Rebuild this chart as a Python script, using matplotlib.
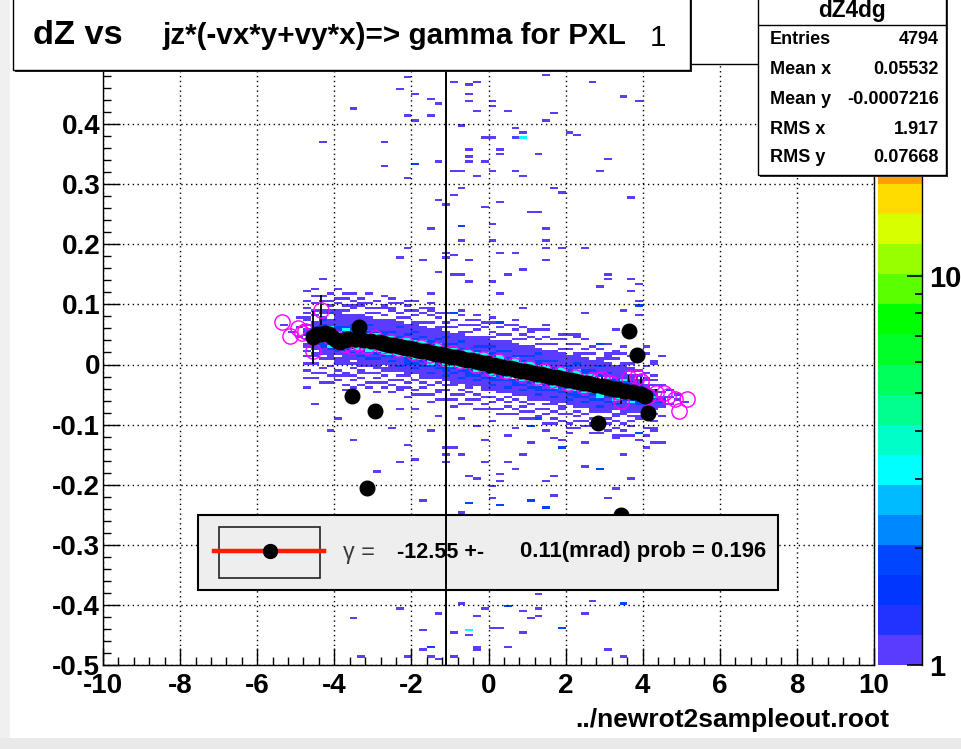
import numpy as np
import matplotlib
matplotlib.use("Agg")
import matplotlib.pyplot as plt
from matplotlib.colors import ListedColormap, BoundaryNorm
from matplotlib.patches import Rectangle
from matplotlib.lines import Line2D
from matplotlib import transforms
from matplotlib.ticker import FixedLocator, FixedFormatter, NullFormatter

# ------------------------------------------------------------------ data
x_range = (-10.0, 10.0)
y_range = (-0.5, 0.5)
n_xbins = 100
n_ybins = 250
z_max = 35.0
n_levels = 20
palette = ['#5a3cff', '#2232ff', '#0036ff', '#0046ff', '#0088ff', '#00bbff',
           '#00ffff', '#00ffc8', '#00ff8c', '#00ff5a', '#00ff28', '#00ff00',
           '#5aff00', '#96ff00', '#d7ff00', '#ffdc00', '#ffa000', '#ff6e00',
           '#ff3c00', '#ff0000']

x_ticks = [-10, -8, -6, -4, -2, 0, 2, 4, 6, 8, 10]
x_ticklabels = ['-10', '-8', '-6', '-4', '-2', '0', '2', '4', '6', '8', '10']
y_ticks = [-0.5, -0.4, -0.3, -0.2, -0.1, 0.0, 0.1, 0.2, 0.3, 0.4]
y_ticklabels = ['-0.5', '-0.4', '-0.3', '-0.2', '-0.1', '0', '0.1', '0.2', '0.3', '0.4']
z_ticks = [1, 10]
z_ticklabels = ['1', '10']
vline_x = -1.1

# dense band of the 2D histogram: per column centre, band middle, counts per y-bin
band_x = [-4.7, -4.5, -4.3, -4.1, -3.9, -3.7, -3.5, -3.3, -3.1, -2.9, -2.7, -2.5,
          -2.3, -2.1, -1.9, -1.7, -1.5, -1.3, -1.1, -0.9, -0.7, -0.5, -0.3, -0.1,
          0.1, 0.3, 0.5, 0.7, 0.9, 1.1, 1.3, 1.5, 1.7, 1.9, 2.1, 2.3, 2.5, 2.7,
          2.9, 3.1, 3.3, 3.5, 3.7, 3.9, 4.1, 4.3, 4.5]
band_mid = [0.055, 0.052, 0.050, 0.048, 0.045, 0.043, 0.041, 0.039, 0.037, 0.035,
            0.034, 0.032, 0.029, 0.027, 0.025, 0.022, 0.020, 0.017, 0.015, 0.012,
            0.010, 0.007, 0.005, 0.002, -0.001, -0.003, -0.006, -0.008, -0.011,
            -0.013, -0.016, -0.018, -0.021, -0.023, -0.026, -0.028, -0.031, -0.033,
            -0.036, -0.038, -0.041, -0.043, -0.046, -0.048, -0.051, -0.053, -0.056]
count_codes = {'.': 0, '1': 1, '2': 2, '3': 3, '4': 4, '5': 5, '6': 6, '7': 7,
               '8': 8, '9': 9, 'A': 12, 'B': 15, 'C': 20, 'D': 25, 'E': 30, 'F': 35}
band_cells = [
    ".1..1..1..|1.1.11.|1.2|2|1.1|.11.1.1|..1...1...",
    "..1.1...1.|.11.112|123|4|321|11.1.1.|.1..1..1..",
    "1...1.1...|1.11122|234|6|322|2121.11|...1.1....",
    ".1..1...1.|.111123|233|8|332|3111.11|.1.1..1...",
    "..1.1.1..1|11.1213|234|A|432|2111111|1..1.1...1",
    ".1...11...|1111122|234|A|432|3211111|.1.1..1.1.",
    "1..1.1..1.|1.11213|234|C|432|2121111|..11.1....",
    "..1..1.11.|1111212|345|C|543|3111211|1...1..1..",
    ".1.1...1..|1112113|345|D|543|2112111|.1.1.1...1",
    "1...1.1.1.|1111212|345|D|543|3211111|..1.1..1..",
    "..1.1..1.1|1.11123|345|D|543|2211111|.1..11...1",
    ".1..1.1...|1111212|345|E|543|3121111|1..1..1.1.",
    "..11..1.1.|1121113|345|E|543|2111211|.1.1...1..",
    "1...1.1..1|1111222|345|E|543|3121111|..1..1.1.1",
    ".1.1...1..|1121213|345|F|543|2112111|1..1.1....",
    "..1..1.1.1|1111212|345|E|543|3121111|.1...1.1..",
    "1..1...1..|1121123|345|F|543|2211111|..1.1..1.1",
    ".1..11..1.|1111212|345|E|543|3121111|1...1.1...",
    "..1...1.1.|1121223|345|F|543|2211211|.1.1...1..",
    "1..1.1...1|1111212|345|E|543|3121111|..1..1.1..",
    ".1...1.1..|1121123|345|F|543|2112111|1..1...1.1",
    "..1.1..1.1|1111222|345|F|543|3211111|.1..1.1...",
    "1...1.1...|1121213|345|E|543|2121111|..1.1...1.",
    ".1.1..1..1|1111212|345|F|543|3112111|1...1.1...",
    "..1..1.1..|1121223|345|F|543|2211211|.1.1...1.1",
    "1.1...1..1|1111212|345|E|543|3121111|..1..1.1..",
    ".1..1.1.1.|1121123|345|F|543|2112111|1..1...1..",
    "..1.1...1.|1111222|345|E|543|3211111|.1...1.1.1",
    "1..1.1.1..|1121213|345|F|543|2121111|..1.1..1..",
    ".1..1..1.1|1111212|345|E|543|3112111|1...1.1...",
    "..11..1...|1121223|345|E|543|2211211|.1.1...1..",
    "1...1.1.1.|1111212|345|D|543|3121111|..1..1..1.",
    ".1.1..1..1|1121123|345|E|543|2112111|1..1.1....",
    "..1..1.11.|1111212|345|D|543|3211111|.1...1.1..",
    "1.1...1...|1121213|345|D|543|2121111|..1.1...1.",
    ".1..1.1.1.|1111222|345|D|543|3112111|1...1..1..",
    "..1.1..1..|1121213|345|D|543|2211111|.1.1...1..",
    "1...1.1..1|1111212|345|C|543|3121111|..1..1....",
    ".1.1...1..|1121123|345|C|543|2111211|1...1.1...",
    "..1..1.1..|1111212|234|C|432|3121111|.1.1...1..",
    "1...1..1.1|1.11213|234|A|432|2111111|..1..1....",
    ".1.1..1...|1111112|234|A|432|3111111|1...1..1..",
    "..1...1.1.|1.11113|233|8|332|2111.11|.1..1.....",
    ".1..1.....|11.1112|223|7|322|2111.1.|...1..1...",
    "...1..1...|.1.1.12|123|5|321|1.11.1.|.1....1...",
    ".1....1...|1..1.11|122|4|221|.1.1.1.|....1.....",
    "..1.......|...1..1|1.2|2|1.1|..1....|......1...",
]

# scattered cells (x, y, count)
sparse_cells = [
    (-2.17, 0.477, 1), (-2.36, 0.457, 1), (-1.93, 0.449, 1), (-1.56, 0.444, 1),
    (-1.35, 0.435, 1), (-3.55, 0.427, 1), (-2.17, 0.413, 1), (-1.56, 0.416, 1),
    (-1.93, 0.404, 1), (-0.96, 0.468, 1), (-0.54, 0.466, 1), (-0.33, 0.468, 1),
    (-0.54, 0.449, 1), (-0.54, 0.440, 1), (0.06, 0.440, 1), (0.06, 0.432, 1),
    (-0.33, 0.421, 1), (0.45, 0.421, 1), (1.47, 0.482, 1), (1.66, 0.418, 1),
    (1.47, 0.407, 1), (2.66, 0.468, 1), (-0.74, 0.399, 1), (0.64, 0.393, 1),
    (0.86, 0.385, 1), (-0.12, 0.377, 1), (0.06, 0.379, 1), (0.64, 0.377, 1),
    (0.86, 0.379, 3), (2.07, 0.385, 1), (2.27, 0.382, 1), (-4.37, 0.371, 1),
    (-2.75, 0.368, 1), (-0.52, 0.357, 1), (0.25, 0.357, 1), (0.25, 0.349, 1),
    (1.25, 0.349, 1), (3.05, 0.343, 1), (-0.54, 0.346, 1), (-0.54, 0.338, 1),
    (-1.35, 0.338, 1), (-0.12, 0.338, 1), (-1.95, 0.333, 2), (-2.75, 0.329, 1),
    (-0.93, 0.321, 1), (-0.74, 0.321, 1), (0.06, 0.324, 1), (0.64, 0.321, 1),
    (0.86, 0.316, 1), (-0.33, 0.316, 1), (2.85, 0.321, 1), (-2.17, 0.310, 1),
    (-0.74, 0.296, 1), (1.66, 0.293, 1), (1.85, 0.285, 1), (-0.94, 0.282, 1),
    (-1.35, 0.274, 1), (-1.15, 0.266, 1), (-0.12, 0.260, 1), (0.25, 0.268, 1),
    (1.06, 0.252, 1), (1.26, 0.252, 1), (0.06, 0.235, 1), (-0.74, 0.228, 2),
    (-1.56, 0.227, 1), (1.47, 0.224, 1), (-0.74, 0.205, 1), (0.06, 0.207, 1),
    (1.47, 0.205, 1), (1.85, 0.196, 1), (-2.17, 0.194, 1), (-2.36, 0.180, 1),
    (-1.15, 0.188, 1), (-0.93, 0.182, 1), (-1.15, 0.177, 1), (-1.75, 0.174, 1),
    (-0.54, 0.174, 1), (0.25, 0.188, 1), (0.64, 0.188, 1), (1.47, 0.194, 1),
    (1.47, 0.174, 1), (2.46, 0.194, 1), (-1.35, 0.155, 1), (-0.93, 0.152, 1),
    (-0.74, 0.149, 1), (0.86, 0.157, 1), (0.45, 0.149, 1), (3.07, 0.152, 1),
    (3.07, 0.144, 1), (-0.54, 0.138, 1), (0.06, 0.138, 1), (2.85, 0.130, 1),
    (-4.37, 0.144, 1), (-3.55, 0.116, 1), (-1.56, 0.119, 1), (0.25, 0.116, 1),
    (3.45, 0.446, 1), (3.89, 0.440, 1), (3.67, 0.277, 1), (3.67, 0.144, 1),
    (3.89, 0.135, 1), (3.67, 0.121, 1), (3.89, 0.107, 1), (3.89, 0.099, 2),
    (3.45, 0.091, 1), (3.89, 0.083, 1), (3.28, 0.058, 1), (2.89, 0.035, 1),
    (3.06, 0.016, 1), (-1.5, 0.090, 1), (-0.9, 0.085, 1), (-0.3, 0.075, 1),
    (0.4, 0.070, 1), (1.0, 0.060, 1), (1.6, 0.065, 1), (2.3, 0.050, 1),
    (-2.5, 0.095, 1), (-3.3, 0.100, 1), (2.6, 0.085, 1), (3.4, 0.020, 1),
    (4.1, 0.030, 1), (4.35, 0.000, 1), (-4.1, 0.085, 1), (-2.0, 0.105, 1),
    (0.9, 0.095, 1), (-5.35, 0.068, 1), (-4.85, 0.078, 1), (-4.85, 0.062, 1),
    (-5.05, 0.055, 1), (-4.95, 0.045, 1),
    (-4.73, -0.038, 1), (-4.54, -0.065, 1), (-3.77, -0.043, 1), (-2.34, -0.074, 1),
    (-1.95, -0.074, 1), (-2.56, -0.107, 1), (-3.55, -0.126, 1), (-2.14, -0.135, 1),
    (-2.34, -0.160, 1), (-1.95, -0.157, 1), (-1.17, -0.140, 1), (-0.96, -0.138, 1),
    (-0.74, -0.149, 1), (-1.17, -0.151, 1), (-1.17, -0.160, 1), (-0.13, -0.160, 1),
    (0.45, -0.163, 1), (0.64, -0.176, 1), (0.25, -0.182, 1), (0.25, -0.196, 1),
    (0.86, -0.151, 1), (1.06, -0.132, 1), (1.47, -0.110, 1), (1.66, -0.124, 1),
    (1.85, -0.126, 1), (1.85, -0.138, 2), (2.46, -0.129, 1), (2.46, -0.168, 1),
    (2.85, -0.176, 2), (3.05, -0.221, 1), (-2.92, -0.179, 1), (-0.52, -0.187, 1),
    (-0.33, -0.190, 1), (0.06, -0.204, 1), (0.06, -0.221, 1), (0.25, -0.232, 1),
    (1.47, -0.196, 1), (1.66, -0.187, 1), (1.66, -0.218, 1), (1.06, -0.226, 1),
    (1.47, -0.237, 1), (-1.75, -0.224, 1), (-0.54, -0.229, 1), (-0.74, -0.246, 1),
    (-0.53, -0.230, 1), (0.25, -0.234, 1), (1.05, -0.226, 1), (1.49, -0.239, 1),
    (-1.13, -0.253, 1), (-1.35, -0.085, 1), (-0.75, -0.090, 1), (-0.35, -0.100, 1),
    (0.05, -0.095, 1), (0.65, -0.105, 1), (1.25, -0.090, 1), (-1.55, -0.110, 1),
    (0.45, -0.120, 1), (2.05, -0.115, 1), (2.65, -0.100, 1), (-0.15, -0.125, 1),
    (1.05, -0.100, 2), (3.35, -0.120, 1), (3.55, -0.150, 1), (3.95, -0.115, 1),
    (4.15, -0.140, 1), (3.75, -0.190, 1), (3.35, -0.205, 1), (4.35, -0.105, 1),
    (3.15, -0.280, 1), (-3.95, -0.090, 1), (-4.15, -0.110, 1),
    (4.75, -0.055, 1), (4.75, -0.065, 1), (4.95, -0.060, 1), (4.65, -0.040, 2),
    (4.95, -0.050, 1), (5.15, -0.062, 1),
    (-2.32, -0.408, 1), (-1.34, -0.413, 1), (-0.09, -0.406, 1), (0.45, -0.401, 2),
    (1.26, -0.408, 1), (2.50, -0.414, 1), (3.49, -0.399, 2), (-0.74, -0.398, 1),
    (1.25, -0.384, 1), (2.68, -0.395, 1), (-3.55, -0.423, 1), (-1.75, -0.443, 1),
    (-0.94, -0.445, 1), (-0.52, -0.443, 3), (-0.52, -0.451, 1), (-0.33, -0.418, 1),
    (0.06, -0.437, 1), (0.25, -0.440, 1), (0.86, -0.412, 1), (1.06, -0.423, 1),
    (1.25, -0.420, 1), (1.85, -0.437, 2), (0.86, -0.448, 1), (0.45, -0.468, 1),
    (-0.33, -0.470, 1), (-1.56, -0.470, 2), (-1.75, -0.476, 1), (-2.15, -0.487, 1),
    (-0.95, -0.487, 1), (-3.25, -0.487, 1), (3.05, -0.476, 1), (-1.45, -0.485, 1),
    (-1.25, -0.492, 1), (3.45, -0.488, 1), (-0.35, -0.475, 1),
]

# profile (black filled markers)
prof_x = [-4.55, -4.45, -4.35, -4.25, -4.15, -4.05, -3.95, -3.85, -3.75, -3.65,
          -3.55, -3.45, -3.35, -3.25, -3.15, -3.05, -2.95, -2.85, -2.75, -2.65,
          -2.55, -2.45, -2.35, -2.25, -2.15, -2.05, -1.95, -1.85, -1.75, -1.65,
          -1.55, -1.45, -1.35, -1.25, -1.15, -1.05, -0.95, -0.85, -0.75, -0.65,
          -0.55, -0.45, -0.35, -0.25, -0.15, -0.05, 0.05, 0.15, 0.25, 0.35,
          0.45, 0.55, 0.65, 0.75, 0.85, 0.95, 1.05, 1.15, 1.25, 1.35,
          1.45, 1.55, 1.65, 1.75, 1.85, 1.95, 2.05, 2.15, 2.25, 2.35,
          2.45, 2.55, 2.65, 2.75, 2.85, 2.95, 3.05, 3.15, 3.25, 3.35,
          3.45, 3.55, 3.65, 3.75, 3.85, 3.95, 4.05, 4.15]
prof_y = [0.045, 0.050, 0.050, 0.052, 0.050, 0.046, 0.040, 0.038, 0.040, 0.043,
          -0.053, 0.043, 0.062, 0.041, -0.206, 0.039, -0.078, 0.037, 0.036, 0.034,
          0.033, 0.032, 0.030, 0.029, 0.028, 0.027, 0.025, 0.024, 0.023, 0.022,
          0.020, 0.019, 0.018, 0.017, 0.015, 0.014, 0.013, 0.012, 0.010, 0.009,
          0.008, 0.007, 0.005, 0.004, 0.003, 0.002, 0.000, -0.001, -0.002, -0.004,
          -0.005, -0.006, -0.007, -0.009, -0.010, -0.011, -0.012, -0.014, -0.015, -0.016,
          -0.017, -0.019, -0.020, -0.021, -0.022, -0.024, -0.025, -0.026, -0.027, -0.029,
          -0.030, -0.031, -0.032, -0.034, -0.097, -0.036, -0.037, -0.039, -0.040, -0.041,
          -0.250, -0.044, 0.055, -0.046, 0.015, -0.049, -0.052, -0.081]
prof_err = [0.044, 0.010, 0.006, 0.005, 0.004, 0.004, 0.004, 0.003, 0.003, 0.003,
            0.0, 0.003, 0.0, 0.003, 0.0, 0.003, 0.0, 0.003, 0.003, 0.003,
            0.003, 0.003, 0.003, 0.003, 0.003, 0.003, 0.003, 0.003, 0.003, 0.003,
            0.003, 0.003, 0.003, 0.003, 0.003, 0.003, 0.003, 0.003, 0.003, 0.003,
            0.003, 0.003, 0.003, 0.003, 0.003, 0.003, 0.003, 0.003, 0.003, 0.003,
            0.003, 0.003, 0.003, 0.003, 0.003, 0.003, 0.003, 0.003, 0.003, 0.003,
            0.003, 0.003, 0.003, 0.003, 0.003, 0.003, 0.003, 0.003, 0.003, 0.003,
            0.003, 0.003, 0.003, 0.003, 0.0, 0.003, 0.003, 0.003, 0.003, 0.003,
            0.0, 0.004, 0.0, 0.005, 0.0, 0.006, 0.008, 0.0]

# second profile (open magenta markers)
prof2_x = [-5.35, -5.15, -4.95, -4.85, -4.75, -4.55, -4.35, -4.15, -3.95, -3.75,
           -3.55, -3.35, -3.15, -2.95, -2.75, -2.55, -2.35, -2.15, -1.95, -1.75,
           -1.55, -1.35, -1.15, -0.95, -0.75, -0.55, -0.35, -0.15, 0.05, 0.25,
           0.45, 0.65, 0.85, 1.05, 1.25, 1.45, 1.65, 1.85, 2.05, 2.25,
           2.45, 2.65, 2.85, 2.95, 3.15, 3.35, 3.45, 3.65, 3.85, 3.95,
           4.15, 4.35, 4.55, 4.65, 4.85, 4.95, 5.15]
prof2_y = [0.070, 0.048, 0.060, 0.053, 0.056, 0.023, 0.090, 0.047, 0.044, 0.034,
           0.030, 0.036, 0.031, 0.044, 0.030, 0.038, 0.025, 0.034, 0.021, 0.029,
           0.015, 0.024, 0.011, 0.019, 0.005, 0.014, 0.000, 0.009, -0.006, 0.005,
           -0.011, -0.001, -0.016, -0.006, -0.021, -0.011, -0.026, -0.016, -0.031, -0.021,
           -0.036, -0.026, -0.025, -0.024, -0.030, -0.046, -0.060, -0.023, -0.021, -0.027,
           -0.053, -0.047, -0.048, -0.052, -0.057, -0.077, -0.057]
prof2_err = [0.0, 0.0, 0.0, 0.0, 0.0, 0.020, 0.025, 0.005, 0.004, 0.004,
             0.004, 0.004, 0.004, 0.004, 0.004, 0.004, 0.004, 0.004, 0.004, 0.004,
             0.004, 0.004, 0.004, 0.004, 0.004, 0.004, 0.004, 0.004, 0.004, 0.004,
             0.004, 0.004, 0.004, 0.004, 0.004, 0.004, 0.004, 0.004, 0.004, 0.004,
             0.004, 0.004, 0.004, 0.004, 0.004, 0.004, 0.006, 0.006, 0.006, 0.006,
             0.006, 0.006, 0.0, 0.0, 0.0, 0.0, 0.0]

fit_gamma_mrad = -12.55
fit_gamma_err = 0.11
fit_prob = 0.196
fit_intercept = 0.0
fit_range = (-4.5, 4.1)

stats_name = 'dZ4dg'
stats_labels = ['Entries', 'Mean x', 'Mean y', 'RMS x', 'RMS y']
stats_values = ['4794', '0.05532', '-0.0007216', '1.917', '0.07668']

title_main = 'dZ vs'
title_rest = 'jz*(-vx*y+vy*x)=> gamma for PXL'
title_tag = '1'
file_label = '../newrot2sampleout.root'

# ------------------------------------------------------------------ figure
W, H = 961, 749
FAM = ['Liberation Sans', 'DejaVu Sans']
plt.rcParams['font.family'] = FAM

fig = plt.figure(figsize=(W / 100, H / 100), dpi=100)
fig.patch.set_facecolor('white')


def fb(x0, y0, x1, y1):
    """pixel box (top-left origin) -> figure fraction rect"""
    return [x0 / W, 1 - y1 / H, (x1 - x0) / W, (y1 - y0) / H]


ax = fig.add_axes(fb(103, 64, 874, 665))

# 2D histogram
xe = np.linspace(x_range[0], x_range[1], n_xbins + 1)
ye = np.linspace(y_range[0], y_range[1], n_ybins + 1)
dy = ye[1] - ye[0]
hist = np.zeros((n_ybins, n_xbins))


def add_cell(x, y, n):
    ix = np.searchsorted(xe, x, side='right') - 1
    iy = np.searchsorted(ye, y, side='right') - 1
    if 0 <= ix < n_xbins and 0 <= iy < n_ybins:
        hist[iy, ix] += n


for bx, bm, code in zip(band_x, band_mid, band_cells):
    s = code.replace('|', '')
    half = len(s) // 2
    for k, ch in enumerate(s):
        n = count_codes[ch]
        if n:
            add_cell(bx, bm + (k - half) * dy, n)
for (sx, sy, sn) in sparse_cells:
    add_cell(sx, sy, sn)

levels = np.logspace(0, np.log10(z_max), n_levels + 1)
cmap = ListedColormap(palette)
cmap.set_over(palette[-1])
norm = BoundaryNorm(levels, n_levels)
ax.pcolormesh(xe, ye, np.ma.masked_equal(hist, 0), cmap=cmap, norm=norm,
              zorder=1, linewidth=0, antialiased=False)

# profiles and fit
ax.errorbar(prof2_x, prof2_y, yerr=prof2_err, fmt='o', ms=11, mfc='none',
            mec='#ff00ff', mew=1.0, ecolor='k', elinewidth=1.3, capsize=0, zorder=3)
fx = np.array(fit_range)
ax.plot(fx, fit_intercept + fit_gamma_mrad * 1e-3 * fx, color='red', lw=3, zorder=3.5)
ax.errorbar(prof_x, prof_y, yerr=prof_err, fmt='o', ms=10.5, color='k',
            ecolor='k', elinewidth=1.3, capsize=0, zorder=4)

ax.set_xlim(*x_range)
ax.set_ylim(*y_range)
ax.xaxis.set_major_locator(FixedLocator(x_ticks))
ax.xaxis.set_major_formatter(FixedFormatter(x_ticklabels))
ax.xaxis.set_minor_locator(FixedLocator(np.arange(-10, 10.01, 0.4)))
ax.yaxis.set_major_locator(FixedLocator(y_ticks))
ax.yaxis.set_major_formatter(FixedFormatter(y_ticklabels))
ax.yaxis.set_minor_locator(FixedLocator(np.arange(-0.5, 0.501, 0.02)))
ax.tick_params(which='both', direction='in', color='k', width=1)
ax.tick_params(which='major', length=12)
ax.tick_params(which='minor', length=6)
ax.tick_params(axis='x', which='major', pad=6, labelsize=20)
ax.tick_params(axis='y', which='major', pad=2, labelsize=20)
for lab in ax.get_xticklabels() + ax.get_yticklabels():
    lab.set_fontweight('bold')
ax.grid(True, which='major', color='k', lw=1.0, ls=(0, (1, 2.5)), zorder=2)
for sp in ax.spines.values():
    sp.set_linewidth(1.0)
    sp.set_zorder(5)

# colour palette axis
cax = fig.add_axes(fb(878, 64, 922, 665))
cax.set_yscale('log')
cax.set_ylim(1, z_max)
cax.set_xlim(0, 1)
centers = np.sqrt(levels[:-1] * levels[1:])
cax.pcolormesh([0, 1], levels, centers.reshape(-1, 1), cmap=cmap, norm=norm,
               linewidth=0, antialiased=False)
for side in ['top', 'left', 'bottom']:
    cax.spines[side].set_visible(False)
cax.spines['right'].set_linewidth(1.0)
cax.set_xticks([])
cax.yaxis.tick_right()
cax.yaxis.set_major_locator(FixedLocator(z_ticks))
cax.yaxis.set_major_formatter(FixedFormatter(z_ticklabels))
cax.yaxis.set_minor_locator(FixedLocator([2, 3, 4, 5, 6, 7, 8, 9, 20, 30]))
cax.yaxis.set_minor_formatter(NullFormatter())
cax.tick_params(which='both', direction='in', color='k', width=1.2, right=True, left=False)
cax.tick_params(which='major', length=11, pad=5, labelsize=21)
cax.tick_params(which='minor', length=5)
for lab in cax.get_yticklabels():
    lab.set_fontweight('bold')

# ------------------------------------------------------------------ decorations
renderer = fig.canvas.get_renderer()


def rect(x0, y0, x1, y1, fc='white', ec='k', lw=1.0, z=5):
    r = Rectangle((x0 / W, 1 - y1 / H), (x1 - x0) / W, (y1 - y0) / H,
                  transform=fig.transFigure, facecolor=fc, edgecolor=ec,
                  linewidth=lw, zorder=z)
    fig.add_artist(r)
    return r


def ftext(x, y, s, width=None, size=14, ha='left', va='center', weight='bold',
          color='k', z=6, family=FAM):
    t = fig.text(x / W, 1 - y / H, s, ha=ha, va=va, fontsize=size,
                 fontweight=weight, color=color, zorder=z, family=family)
    if width is not None:
        w = t.get_window_extent(renderer).width
        t.set_fontsize(size * width / w)
    return t


# legend box (under the vertical line)
rect(198, 515, 778, 590, fc='#eeeeee', ec='k', lw=1.5, z=2)
rect(219, 527, 320, 578, fc='none', ec='#222222', lw=1.2, z=2.1)
fig.add_artist(Line2D([214 / W, 324 / W], [1 - 551 / H, 1 - 551 / H],
                      transform=fig.transFigure, color='#ff1a00', lw=3.2, zorder=2.2))
fig.add_artist(Line2D([270 / W], [1 - 551 / H], transform=fig.transFigure,
                      marker='o', ms=10, color='k', zorder=2.3))
ftext(343, 552, '\u03b3 =', width=32, weight='normal', color='#3a3a3a', z=2.5)
ftext(397, 552, '%.2f +-' % fit_gamma_mrad, width=87, z=2.5)
ftext(520, 552, '%.2f(mrad) prob = %.3f' % (fit_gamma_err, fit_prob), width=247, z=2.5)

# vertical marker line
blend = transforms.blended_transform_factory(ax.transData, ax.transAxes)
fig.add_artist(Line2D([vline_x, vline_x], [0, 1], transform=blend, color='k',
                      lw=1.4, zorder=3))

# title box with shadow
rect(15, -5, 692, 72, fc='#222222', ec='#222222', lw=0, z=4)
rect(13, -5, 690, 70, fc='white', ec='k', lw=1.0, z=4.1)
t1 = ftext(33, 36, title_main, width=90, size=18, z=4.2)
t2 = ftext(162, 36, title_rest, width=463, size=18, z=4.2)
ftext(650, 38, title_tag, size=t2.get_fontsize(), weight='normal', z=4.2)

# stats box
rect(760, -5, 948, 177, fc='#333333', ec='#333333', lw=0, z=4)
rect(758, -5, 946, 175, fc='white', ec='k', lw=1.0, z=4.1)
fig.add_artist(Line2D([758 / W, 946 / W], [1 - 25 / H, 1 - 25 / H],
                      transform=fig.transFigure, color='k', lw=1.0, zorder=4.2))
ftext(852, 11, stats_name, width=68, size=14, ha='center', z=4.3)
row_y = [39, 70, 100, 129, 158]
lab0 = ftext(770, row_y[0], stats_labels[0], width=61, size=11, z=4.3)
ssize = lab0.get_fontsize()
for lab, val, yy in zip(stats_labels[1:], stats_values[1:], row_y[1:]):
    ftext(770, yy, lab, size=ssize, z=4.3)
for val, yy in zip(stats_values, row_y):
    ftext(939, yy, val, size=ssize, ha='right', z=4.3)

# file label
ftext(575, 720, file_label, width=313, size=16, z=4.3)

# window margins
rect(0, 0, 10, 749, fc='#f0f0f0', ec='none', lw=0, z=7)
rect(0, 738, 961, 749, fc='#e9e9e9', ec='none', lw=0, z=7)

fig.savefig('out.png', dpi=100, facecolor='white')
